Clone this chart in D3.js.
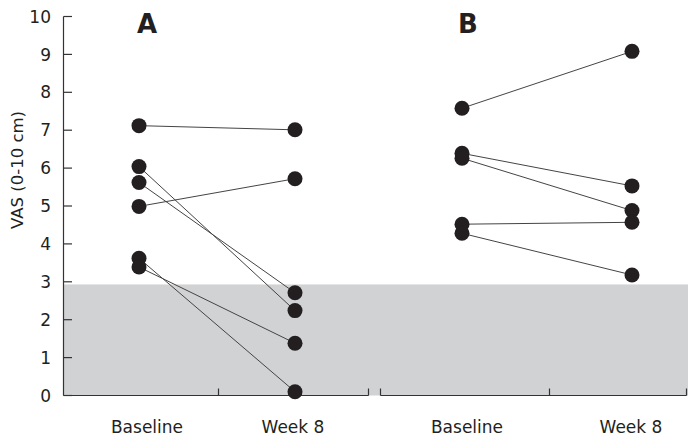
<!DOCTYPE html>
<html>
<head>
<meta charset="utf-8">
<script src="https://cdn.jsdelivr.net/npm/d3@7"></script>
<style>
  html, body { margin: 0; padding: 0; background: #fff; }
  svg { display: block; }
  text { font-family: "DejaVu Sans", Verdana, sans-serif; fill: #231f20; }
</style>
</head>
<body>
<svg id="chart" width="697" height="443"></svg>
<script>
// ---- Data ----
const categories = ["Baseline", "Week 8"];
const panelNames = ["A", "B"];
const panelABaseline = [7.12, 6.04, 5.62, 4.99, 3.62, 3.39];
const panelAWeek8   = [7.01, 2.24, 2.71, 5.72, 0.10, 1.38];
const panelBBaseline = [7.58, 6.39, 6.26, 4.52, 4.28];
const panelBWeek8   = [9.08, 5.53, 4.88, 4.57, 3.18];
const yTicks = [0, 1, 2, 3, 4, 5, 6, 7, 8, 9, 10];
const yLabel = "VAS (0-10 cm)";
const thresholdValue = 2.93;

// ---- Layout ----
const svg = d3.select("#chart");
const ink = "#231f20";
const y = d3.scaleLinear().domain([0, 10]).range([395.5, 16.5]);

const panels = [
  { name: panelNames[0], base: panelABaseline, wk: panelAWeek8,
    axis: [63.5, 368.5], mid: 218.5, dots: [139, 295], labelX: [147, 293], titleX: 147 },
  { name: panelNames[1], base: panelBBaseline, wk: panelBWeek8,
    axis: [380.5, 686.5], mid: 549.5, dots: [462, 632], labelX: [467, 631], titleX: 468 }
];

// shaded region below threshold
svg.append("rect")
  .attr("x", 64)
  .attr("y", y(thresholdValue))
  .attr("width", 688 - 64)
  .attr("height", y(0) - y(thresholdValue))
  .attr("fill", "#d1d2d4");

// y axis
const yAxis = svg.append("g");
yAxis.append("line")
  .attr("x1", 63.5).attr("x2", 63.5)
  .attr("y1", y(10)).attr("y2", y(0))
  .attr("stroke", "#333").attr("stroke-width", 1.2);
yAxis.selectAll("line.tick").data(yTicks).join("line")
  .attr("class", "tick")
  .attr("x1", 63.5).attr("x2", 72)
  .attr("y1", d => y(d)).attr("y2", d => y(d))
  .attr("stroke", "#333").attr("stroke-width", 1.2);
yAxis.selectAll("text").data(yTicks).join("text")
  .attr("x", 51)
  .attr("y", d => y(d))
  .attr("dy", "0.36em")
  .attr("text-anchor", "end")
  .attr("font-size", 17)
  .text(d => d);

svg.append("text")
  .attr("transform", "translate(23,170) rotate(-90)")
  .attr("text-anchor", "middle")
  .attr("font-size", 16.5)
  .text(yLabel);

panels.forEach(p => {
  const x = d3.scalePoint().domain(categories).range(p.dots);
  const g = svg.append("g");

  // x axis
  g.append("line")
    .attr("x1", p.axis[0]).attr("x2", p.axis[1])
    .attr("y1", y(0)).attr("y2", y(0))
    .attr("stroke", "#333").attr("stroke-width", 1.2);
  const tickXs = (p.name === "A") ? [p.mid, p.axis[1]] : [p.axis[0], p.mid, p.axis[1]];
  g.selectAll("line.xt").data(tickXs).join("line")
    .attr("class", "xt")
    .attr("x1", d => d).attr("x2", d => d)
    .attr("y1", y(0)).attr("y2", y(0) - 7)
    .attr("stroke", "#333").attr("stroke-width", 1.2);

  // category labels
  g.selectAll("text.cat").data(categories).join("text")
    .attr("class", "cat")
    .attr("x", (d, i) => p.labelX[i])
    .attr("y", 433)
    .attr("text-anchor", "middle")
    .attr("font-size", 17)
    .text(d => d);

  // panel title
  g.append("text")
    .attr("x", p.titleX)
    .attr("y", 33)
    .attr("text-anchor", "middle")
    .attr("font-size", 26)
    .attr("font-weight", "bold")
    .text(p.name);

  const pairs = p.base.map((b, i) => [b, p.wk[i]]);

  // connecting lines
  g.selectAll("line.conn").data(pairs).join("line")
    .attr("class", "conn")
    .attr("x1", x(categories[0])).attr("x2", x(categories[1]))
    .attr("y1", d => y(d[0])).attr("y2", d => y(d[1]))
    .attr("stroke", "#444").attr("stroke-width", 1);

  // dots
  g.selectAll("circle.b").data(p.base).join("circle")
    .attr("class", "b")
    .attr("cx", x(categories[0])).attr("cy", d => y(d))
    .attr("r", 7.5).attr("fill", ink);
  g.selectAll("circle.w").data(p.wk).join("circle")
    .attr("class", "w")
    .attr("cx", x(categories[1])).attr("cy", d => y(d))
    .attr("r", 7.5).attr("fill", ink);
});
</script>
</body>
</html>
